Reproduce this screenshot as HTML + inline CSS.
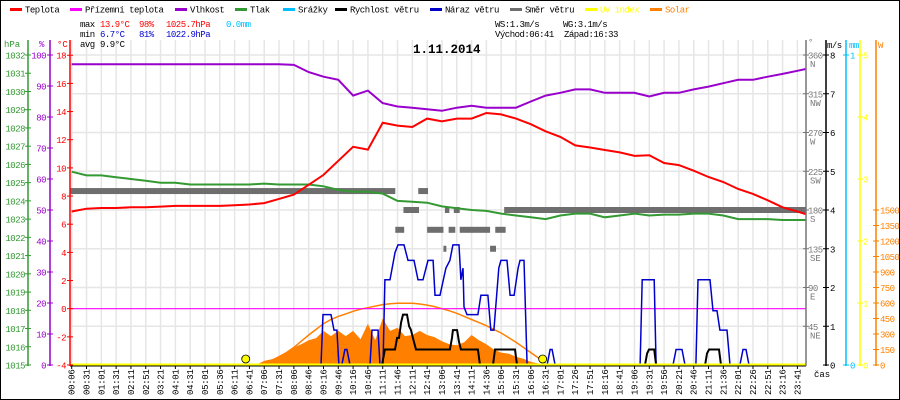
<!DOCTYPE html>
<html><head><meta charset="utf-8">
<style>
html,body{margin:0;padding:0;background:#fff;}
svg{display:block;font-family:"Liberation Mono",monospace;}
</style></head>
<body>
<svg id="chart" width="900" height="400" viewBox="0 0 900 400" xmlns="http://www.w3.org/2000/svg">
<rect x="0.5" y="0.5" width="899" height="399" fill="#fff" stroke="#000"/>
<g id="grid"></g>
<g id="series"></g>
<g id="axes"></g>
<g id="legend" font-size="9" letter-spacing="-0.5"></g>
<g font-size="9" letter-spacing="-0.5">
<text x="80" y="27" fill="#000">max</text>
<text x="100" y="27" fill="#f00">13.9°C</text>
<text x="139" y="27" fill="#f00">98%</text>
<text x="166" y="27" fill="#f00">1025.7hPa</text>
<text x="226" y="27" fill="#00bfff">0.0mm</text>
<text x="80" y="37" fill="#000">min</text>
<text x="100" y="37" fill="#00c">6.7°C</text>
<text x="139" y="37" fill="#00c">81%</text>
<text x="166" y="37" fill="#00c">1022.9hPa</text>
<text x="80" y="47" fill="#000">avg</text>
<text x="100" y="47" fill="#000">9.9°C</text>
<text x="495" y="27" fill="#000">WS:1.3m/s</text>
<text x="563" y="27" fill="#000">WG:3.1m/s</text>
<text x="495" y="37" fill="#000">Východ:06:41</text>
<text x="564" y="37" fill="#000">Západ:16:33</text>
</g>
<text x="413" y="53" font-size="12.5" font-weight="bold" fill="#000">1.11.2014</text>
</svg>
<script>
const xLabels=["00:06","00:31","01:01","01:31","02:11","02:51","03:21","04:01","04:31","05:01","05:36","06:11","06:41","07:06","07:31","08:06","08:46","09:16","09:46","10:16","10:46","11:11","11:46","12:11","12:41","13:06","13:41","14:11","14:36","15:06","15:31","16:06","16:31","17:01","17:26","17:51","18:16","18:41","19:06","19:31","19:56","20:21","20:46","21:11","21:36","22:01","22:26","22:51","23:16","23:41"];
const tempVals=[6.9,7.1,7.15,7.15,7.2,7.2,7.25,7.3,7.3,7.3,7.3,7.35,7.4,7.5,7.8,8.1,8.8,9.5,10.5,11.5,11.3,13.2,13.0,12.9,13.5,13.3,13.5,13.5,13.9,13.8,13.5,13.1,12.6,12.2,11.6,11.45,11.27,11.1,10.85,10.9,10.35,10.2,9.8,9.35,9.0,8.5,8.15,7.7,7.2,6.9,6.7];
const humVals=[97,97,97,97,97,97,97,97,97,97,97,97,97,97,97,96.8,94.5,93,92,86.9,88.5,84.5,83.4,83,82.5,82,83,83.6,83,83,83,85,86.9,87.8,88.9,88.9,87.8,87.8,87.8,86.6,87.8,87.8,88.9,89.8,90.9,92,92,93,93.9,94.9,95.5];
const presVals=[1025.6,1025.4,1025.4,1025.3,1025.2,1025.1,1025.0,1025.0,1024.9,1024.9,1024.9,1024.9,1024.9,1024.95,1024.9,1024.9,1024.9,1024.8,1024.6,1024.5,1024.5,1024.4,1024.0,1023.95,1023.9,1023.7,1023.6,1023.5,1023.45,1023.3,1023.2,1023.1,1023.0,1023.2,1023.3,1023.3,1023.1,1023.2,1023.3,1023.2,1023.25,1023.25,1023.3,1023.3,1023.2,1023.0,1023.0,1023.0,1022.95,1022.95,1022.95];
const groundTemp=0;
const gustIdx=[0,16.83,16.97,17.51,17.71,17.91,18.04,18.24,18.45,18.58,18.79,20.14,20.28,20.68,20.82,21.02,21.15,21.49,21.83,22.03,22.44,22.71,23.11,23.38,23.72,23.92,24.06,24.4,24.53,24.87,25.27,25.54,25.74,26.15,26.28,26.42,26.49,26.69,27.43,27.63,28.1,28.3,28.51,28.84,28.98,29.39,29.6,29.87,30.14,30.27,30.54,30.75,32.1,32.3,32.44,32.64,38.38,38.52,39.33,39.46,40.6,40.81,41.21,41.41,42.15,42.29,43.1,43.3,43.57,43.77,44.25,44.45,45.12,45.33,45.53,45.73,49.57];
const gustVals=[0,0,1.3,1.3,0.9,0.9,0,0,0.4,0.4,0,0,0.9,0.9,0,0,2.2,2.2,2.9,3.1,3.1,2.7,2.7,2.2,2.2,2.5,2.7,2.7,1.8,1.8,2.5,2.7,3.1,3.1,2.2,2.5,1.5,1.3,1.3,1.8,1.8,0.9,0.9,2.5,2.7,2.7,1.8,1.8,2.5,2.7,2.7,0,0,0.4,0.4,0,0,2.2,2.2,0,0,0.4,0.4,0,0,2.2,2.2,1.4,1.4,0.9,0.9,0,0,0.4,0.4,0,0];
const windIdx=[0,20.95,21.15,21.83,21.97,22.1,22.24,22.37,22.64,22.78,22.91,23.04,23.25,25.54,25.68,25.74,26.02,26.15,26.28,27.43,27.57,28.45,28.58,29.93,30.07,38.71,38.85,38.98,39.33,39.46,42.77,42.9,43.04,43.71,43.84,49.57];
const windVals=[0,0,0.4,0.4,0.7,0.7,1.1,1.3,1.3,1.0,0.9,0.7,0.4,0.4,0.7,0.9,0.9,0.6,0.4,0.4,0,0,0.4,0.4,0,0,0.3,0.4,0.4,0,0,0.3,0.4,0.4,0,0];
const dirStart=[-0.1,23.4,22.4,25.2,25.8,29.2,21.85,24.0,25.45,26.2,28.6,25.1,28.25];
const dirEnd=[21.85,24.06,23.45,25.5,26.2,49.6,22.45,25.1,25.9,28.25,29.3,25.3,28.65];
const dirVals=[202,202,180,180,180,180,157,157,157,157,157,135,135];
const solarStartIdx=12;
const solarVals=[0,5,40,55,75,120,170,200,240,260,330,280,330,280,330,250,400,240,450,330,360,280,290,330,290,270,230,200,190,220,290,240,200,150,120,110,80,60,30,15,0];
const solarTheory=[0,3,20,45,80,120,170,230,290,345,400,440,470,495,520,540,555,570,585,592,597,598,597,590,580,565,545,525,500,470,440,410,380,345,310,265,220,170,120,70,20];
const sunriseIdx=11.75, sunsetIdx=31.8;

const NS="http://www.w3.org/2000/svg";
const X=i=>71.7+14.81*i;
const yT=t=>365-(t+4)*14.08;
const yH=h=>365-h*3.1;
const yP=p=>365-(p-1015)*18.235;
const yW=v=>365-v*38.75;
const yD=d=>365-d*0.8611;
const yS=w=>365-w*0.10333;
function el(tag,attrs,parent,txt){const e=document.createElementNS(NS,tag);for(const k in attrs)e.setAttribute(k,attrs[k]);if(txt!==undefined)e.textContent=txt;parent.appendChild(e);return e;}
const grid=document.getElementById('grid'),ser=document.getElementById('series'),ax=document.getElementById('axes'),leg=document.getElementById('legend');

// grid
xLabels.forEach((l,i)=>{const g=el('line',{x1:X(i),x2:X(i),y1:40,y2:365,stroke:'#e6e6e6','stroke-width':1.5},grid);

});
for(let k=1;k<=8;k++){const g=el('line',{x1:70,x2:806,y1:yW(k),y2:yW(k),stroke:'#e6e6e6','stroke-width':1.5},grid);

}

function pts(vals,f,start){return vals.map((v,i)=>{const idx=(start||0)+i*(start!==undefined?0.5:1);return X(i===vals.length-1&&start===undefined?49.6:idx).toFixed(1)+','+f(v).toFixed(1);}).join(' ');}

// solar fill
{let p=solarVals.map((v,i)=>X(solarStartIdx+i*0.5).toFixed(1)+','+yS(v).toFixed(1));
const a=el('polygon',{points:X(solarStartIdx)+','+365+' '+p.join(' ')+' '+X(solarStartIdx+(solarVals.length-1)*0.5)+',365',fill:'#ff8000'},ser);


const t=el('polyline',{points:solarTheory.map((v,i)=>X(solarStartIdx+i*0.5).toFixed(1)+','+yS(v).toFixed(1)).join(' '),fill:'none',stroke:'#ff8000','stroke-width':1.5},ser);

}

// ground temp
{const g=el('line',{x1:70,x2:806,y1:yT(groundTemp),y2:yT(groundTemp),stroke:'#f0f','stroke-width':1.2},ser);

}

// direction
dirVals.forEach((d,k)=>{const r=el('rect',{x:X(dirStart[k]),y:yD(d)-3,width:X(dirEnd[k])-X(dirStart[k]),height:6,fill:'#6e6e6e'},ser);

});

// pressure, humidity, temp
{const l=el('polyline',{points:pts(presVals,yP),fill:'none',stroke:'#339933','stroke-width':2},ser);

}
{const l=el('polyline',{points:pts(humVals,yH),fill:'none',stroke:'#9900cc','stroke-width':2},ser);

}
{const l=el('polyline',{points:pts(tempVals,yT),fill:'none',stroke:'#f00','stroke-width':2},ser);

}

// gust & wind
{const l=el('polyline',{points:gustIdx.map((t,i)=>X(t).toFixed(1)+','+yW(gustVals[i]).toFixed(1)).join(' '),fill:'none',stroke:'#0000cc','stroke-width':1.5},ser);

}
{const l=el('polyline',{points:windIdx.map((t,i)=>X(t).toFixed(1)+','+yW(windVals[i]).toFixed(1)).join(' '),fill:'none',stroke:'#000','stroke-width':2},ser);

}

// UV baseline
{const l=el('line',{x1:70,x2:806,y1:364.5,y2:364.5,stroke:'#ffff00','stroke-width':2},ser);

}
el('line',{x1:70,x2:806,y1:366,y2:366,stroke:'#000','stroke-width':1},ax);
[sunriseIdx,sunsetIdx].forEach((s,k)=>{const c=el('circle',{cx:X(s),cy:359,r:4,fill:'#ffff00',stroke:'#000','stroke-width':0.8},ser);

});

// x labels
xLabels.forEach((l,i)=>{el('line',{x1:X(i),x2:X(i),y1:366,y2:369,stroke:'#000'},ax);
const t=el('text',{x:0,y:0,transform:`translate(${X(i)+3},395) rotate(-90)`,'font-size':9,'letter-spacing':-0.3,fill:'#000'},ax,l);

});
el('text',{x:814,y:377,'font-size':9,fill:'#000'},ax,'čas');

// left axes
function vaxis(x,color,ticks,f,labFn,labX,anchor,tlen){el('line',{x1:x,x2:x,y1:40,y2:366,stroke:color,'stroke-width':1.5},ax);
ticks.forEach(v=>{el('line',{x1:x-3,x2:x+3,y1:f(v),y2:f(v),stroke:color},ax);
const s=labFn(v);if(s!==null){const t=el('text',{x:labX,y:f(v)+3.5,'font-size':9,'letter-spacing':-0.5,fill:color,'text-anchor':anchor},ax,s);

}});}
const hpaTicks=[1015,1016,1017,1018,1019,1020,1021,1022,1023,1024,1025,1026,1027,1028,1029,1030,1031,1032];
const humTicks=[0,10,20,30,40,50,60,70,80,90,100];
const tempTicks=[-4,-2,0,2,4,6,8,10,12,14,16,18];
vaxis(28,'#339933',hpaTicks,yP,v=>String(v),25,'end');
vaxis(50,'#9900cc',humTicks,yH,v=>String(v),46,'end');
vaxis(70,'#f00',tempTicks,yT,v=>String(v),66,'end');
el('text',{x:4,y:47,'font-size':9,fill:'#339933'},ax,'hPa');
el('text',{x:39,y:47,'font-size':9,fill:'#9900cc'},ax,'%');
el('text',{x:57,y:47,'font-size':9,fill:'#f00'},ax,'°C');

// right axes
const dirTicks=[45,90,135,180,225,270,315,360];
const dirNames=['NE','E','SE','S','SW','W','NW','N'];
el('line',{x1:806,x2:806,y1:40,y2:366,stroke:'#777','stroke-width':1.5},ax);
dirTicks.forEach((d,k)=>{el('line',{x1:803,x2:809,y1:yD(d),y2:yD(d),stroke:'#777'},ax);
el('text',{x:808,y:yD(d)+3.5,'font-size':9,'letter-spacing':-0.5,fill:'#777'},ax,String(d));
el('text',{x:810,y:yD(d)+12,'font-size':9,fill:'#777'},ax,dirNames[k]);});
el('text',{x:808,y:45,'font-size':9,fill:'#777'},ax,'°');
const windTicks=[0,1,2,3,4,5,6,7,8];
vaxis(826,'#000',windTicks,yW,v=>String(v),830,'start');
el('text',{x:827,y:48,'font-size':9,'letter-spacing':-0.5,fill:'#000'},ax,'m/s');
vaxis(846,'#00bfff',[0,1],v=>365-v*310,v=>String(v),850,'start');
el('text',{x:849,y:48,'font-size':9,'letter-spacing':-0.5,fill:'#00bfff'},ax,'mm');
vaxis(860,'#ffff00',[0,1,2,3,4,5],v=>365-v*62,v=>String(v),863,'start');
const wTicks=[0,150,300,450,600,750,900,1050,1200,1350,1500];
el('line',{x1:876,x2:876,y1:40,y2:366,stroke:'#ff8000','stroke-width':1.5},ax);
wTicks.forEach(v=>{el('line',{x1:873,x2:879,y1:yS(v),y2:yS(v),stroke:'#ff8000'},ax);
el('text',{x:880,y:yS(v)+3.5,'font-size':9,'letter-spacing':-0.6,fill:'#ff8000'},ax,String(v));});
el('text',{x:878,y:48,'font-size':9,fill:'#ff8000'},ax,'W');

// legend
const legNames=['Teplota','Přízemní teplota','Vlhkost','Tlak','Srážky','Rychlost větru','Náraz větru','Směr větru','UV index','Solar'];
const legColors=['#f00','#f0f','#9900cc','#339933','#00bfff','#000','#0000cc','#6e6e6e','#ffff00','#ff8000'];
const legX=[10,70,175,235,283,335,430,510,585,650];
legNames.forEach((n,k)=>{const r=el('rect',{x:legX[k],y:8,width:12,height:3,fill:legColors[k]},leg);


const t=el('text',{x:legX[k]+15,y:12.5,fill:(k>=8?legColors[k]:'#000')},leg,n);

});
</script>
</body></html>
